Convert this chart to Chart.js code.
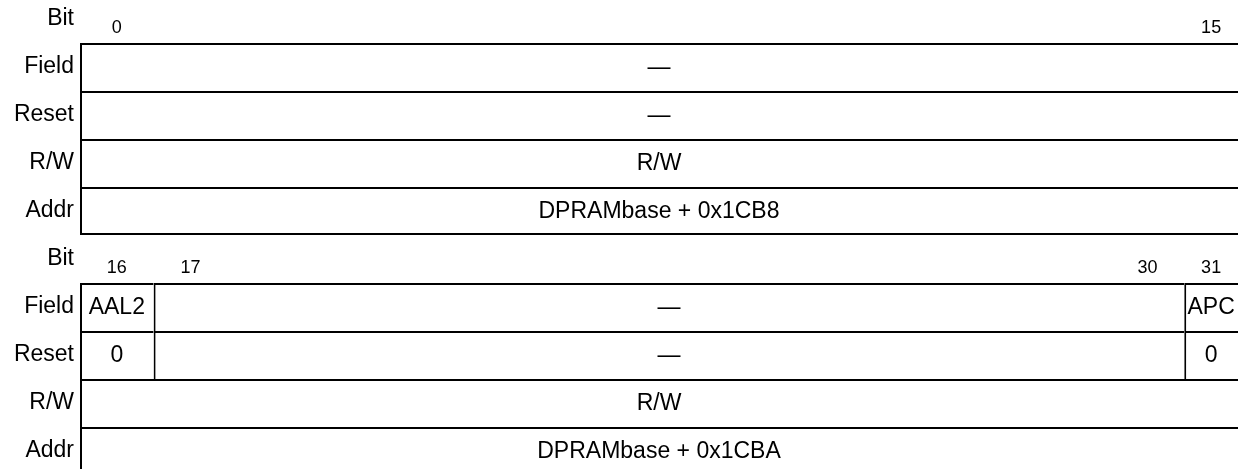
<!DOCTYPE html>
<html>
<head>
<meta charset="utf-8">
<script src="https://cdn.jsdelivr.net/npm/chart.js@4/dist/chart.umd.min.js"></script>
<style>
html, body { margin: 0; padding: 0; background: #fff; overflow: hidden; }
#wrap { position: relative; width: 1238px; height: 469px; }
.reg { position: absolute; left: 0; width: 1238px; height: 240px; }
#reg-lo { top: -5px; }
#reg-hi { top: 235px; }
</style>
</head>
<body>
<div id="wrap">
  <div class="reg" id="reg-lo"><canvas id="chart-lo" width="1238" height="240"></canvas></div>
  <div class="reg" id="reg-hi"><canvas id="chart-hi" width="1238" height="240"></canvas></div>
</div>
<script>
const ROWS = ['Bit', 'Field', 'Reset', 'R/W', 'Addr'];

// first half word, bits 0-15  [text, fromBit, toBit]
const LO_FIRST_BIT = 0;
const LO_BIT_LABELS = [0, 15];
const LO_FIELD = [['—', 0, 15]];
const LO_RESET = [['—', 0, 15]];
const LO_RW = [['R/W', 0, 15]];
const LO_ADDR = [['DPRAMbase + 0x1CB8', 0, 15]];

// second half word, bits 16-31
const HI_FIRST_BIT = 16;
const HI_BIT_LABELS = [16, 17, 30, 31];
const HI_FIELD = [['AAL2', 16, 16], ['—', 17, 30], ['APC', 31, 31]];
const HI_RESET = [['0', 16, 16], ['—', 17, 30], ['0', 31, 31]];
const HI_RW = [['R/W', 16, 31]];
const HI_ADDR = [['DPRAMbase + 0x1CBA', 16, 31]];

// the picture is cut on the right, only part of the last bit shows
const BITS_VISIBLE = 15.73;
const FONT = '"Liberation Sans", Arial, Helvetica, sans-serif';

Chart.defaults.font.family = FONT;
Chart.defaults.color = '#000';

function cells(row, list) {
    return list.map(([text, from, to]) => ({ y: row, x: [from, to + 1], text }));
}

const cellText = {
    id: 'cellText',
    afterDatasetsDraw(chart, args, opts) {
        const { ctx, chartArea } = chart;
        const xs = chart.scales.x;
        const ys = chart.scales.y;
        const data = chart.data.datasets[0].data;
        ctx.save();
        ctx.fillStyle = '#000';
        ctx.textAlign = 'center';
        ctx.textBaseline = 'middle';

        ctx.font = '23px ' + FONT;
        chart.getDatasetMeta(0).data.forEach((bar, i) => {
            const l = Math.max(Math.min(bar.base, bar.x), chartArea.left);
            const r = Math.min(Math.max(bar.base, bar.x), chartArea.right);
            ctx.fillText(data[i].text, (l + r) / 2, bar.y + 1, r - l - 6);
        });

        ctx.font = '18px ' + FONT;
        const yBit = ys.getPixelForValue(0) + 9;
        opts.bits.forEach(b => {
            const l = xs.getPixelForValue(b);
            const r = Math.min(xs.getPixelForValue(b + 1), chartArea.right);
            ctx.fillText(String(b), (l + r) / 2, yBit);
        });
        ctx.restore();
    }
};

function makeRegister(id, firstBit, bits, field, reset, rw, addr) {
    const data = [
        ...cells('Field', field),
        ...cells('Reset', reset),
        ...cells('R/W', rw),
        ...cells('Addr', addr),
    ];
    return new Chart(document.getElementById(id), {
        type: 'bar',
        data: {
            labels: ROWS,
            datasets: [{
                data,
                backgroundColor: '#fff',
                borderColor: '#000',
                borderWidth: c => (c.raw && c.raw.y === 'Addr')
                    ? { top: 2, left: 2, bottom: 2, right: 0 }
                    : { top: 2, left: 2, bottom: 0, right: 0 },
                borderSkipped: false,
                inflateAmount: 0,
                barPercentage: 1,
                categoryPercentage: 1,
            }],
        },
        options: {
            indexAxis: 'y',
            responsive: false,
            animation: false,
            devicePixelRatio: 1,
            layout: { padding: 0 },
            plugins: {
                legend: { display: false },
                tooltip: { enabled: false },
                cellText: { bits },
            },
            scales: {
                x: { type: 'linear', min: firstBit, max: firstBit + BITS_VISIBLE, display: false },
                y: {
                    type: 'category',
                    offset: true,
                    grid: { display: false, drawTicks: false },
                    border: { display: false },
                    ticks: { color: '#000', padding: 6, font: { size: 23 } },
                    afterFit(scale) {
                        scale.width = 80;
                        scale.paddingTop = 0;
                        scale.paddingBottom = 0;
                    },
                },
            },
        },
        plugins: [cellText],
    });
}

makeRegister('chart-lo', LO_FIRST_BIT, LO_BIT_LABELS, LO_FIELD, LO_RESET, LO_RW, LO_ADDR);
makeRegister('chart-hi', HI_FIRST_BIT, HI_BIT_LABELS, HI_FIELD, HI_RESET, HI_RW, HI_ADDR);
</script>
</body>
</html>
